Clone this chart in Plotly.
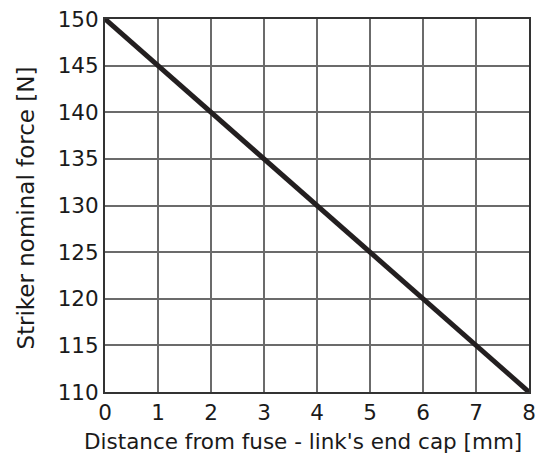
import plotly.graph_objects as go

distance_mm = [0, 8]
force_n = [150, 110]
x_ticks = [0, 1, 2, 3, 4, 5, 6, 7, 8]
y_ticks = [110, 115, 120, 125, 130, 135, 140, 145, 150]
x_title = "Distance from fuse - link's end cap [mm]"
y_title = "Striker nominal force [N]"

FONT = "DejaVu Sans, Open Sans, sans-serif"

fig = go.Figure()
fig.add_trace(go.Scatter(x=distance_mm, y=force_n, mode="lines",
                         line=dict(color="#231f20", width=5), showlegend=False))

fig.update_layout(
    width=550, height=459,
    margin=dict(l=97, r=29, t=11, b=75),
    paper_bgcolor="white", plot_bgcolor="white",
    font=dict(family=FONT, size=21.5, color="#1a1a1a"),
)
fig.update_xaxes(range=[0, 8], tickvals=x_ticks, showgrid=True, gridcolor="#6b6b6b", gridwidth=1.5,
                 showline=True, linecolor="#333333", linewidth=2, mirror=True, zeroline=False,
                 ticks="", ticklen=0, automargin=False, ticklabeloverflow="allow")
fig.update_yaxes(range=[110, 150], tickvals=y_ticks, showgrid=True, gridcolor="#6b6b6b", gridwidth=1.5,
                 showline=True, linecolor="#333333", linewidth=2, mirror=True, zeroline=False,
                 ticks="", ticklen=0, automargin=False, ticklabeloverflow="allow")
fig.add_annotation(text=x_title, xref="paper", yref="paper", x=0.468, y=-0.133,
                   xanchor="center", yanchor="middle", showarrow=False,
                   font=dict(family=FONT, size=21.5, color="#1a1a1a"))
fig.add_annotation(text=y_title, xref="paper", yref="paper", x=-0.186, y=0.492,
                   xanchor="center", yanchor="middle", showarrow=False, textangle=-90,
                   font=dict(family=FONT, size=23, color="#1a1a1a"))

fig.write_html("out.html")
